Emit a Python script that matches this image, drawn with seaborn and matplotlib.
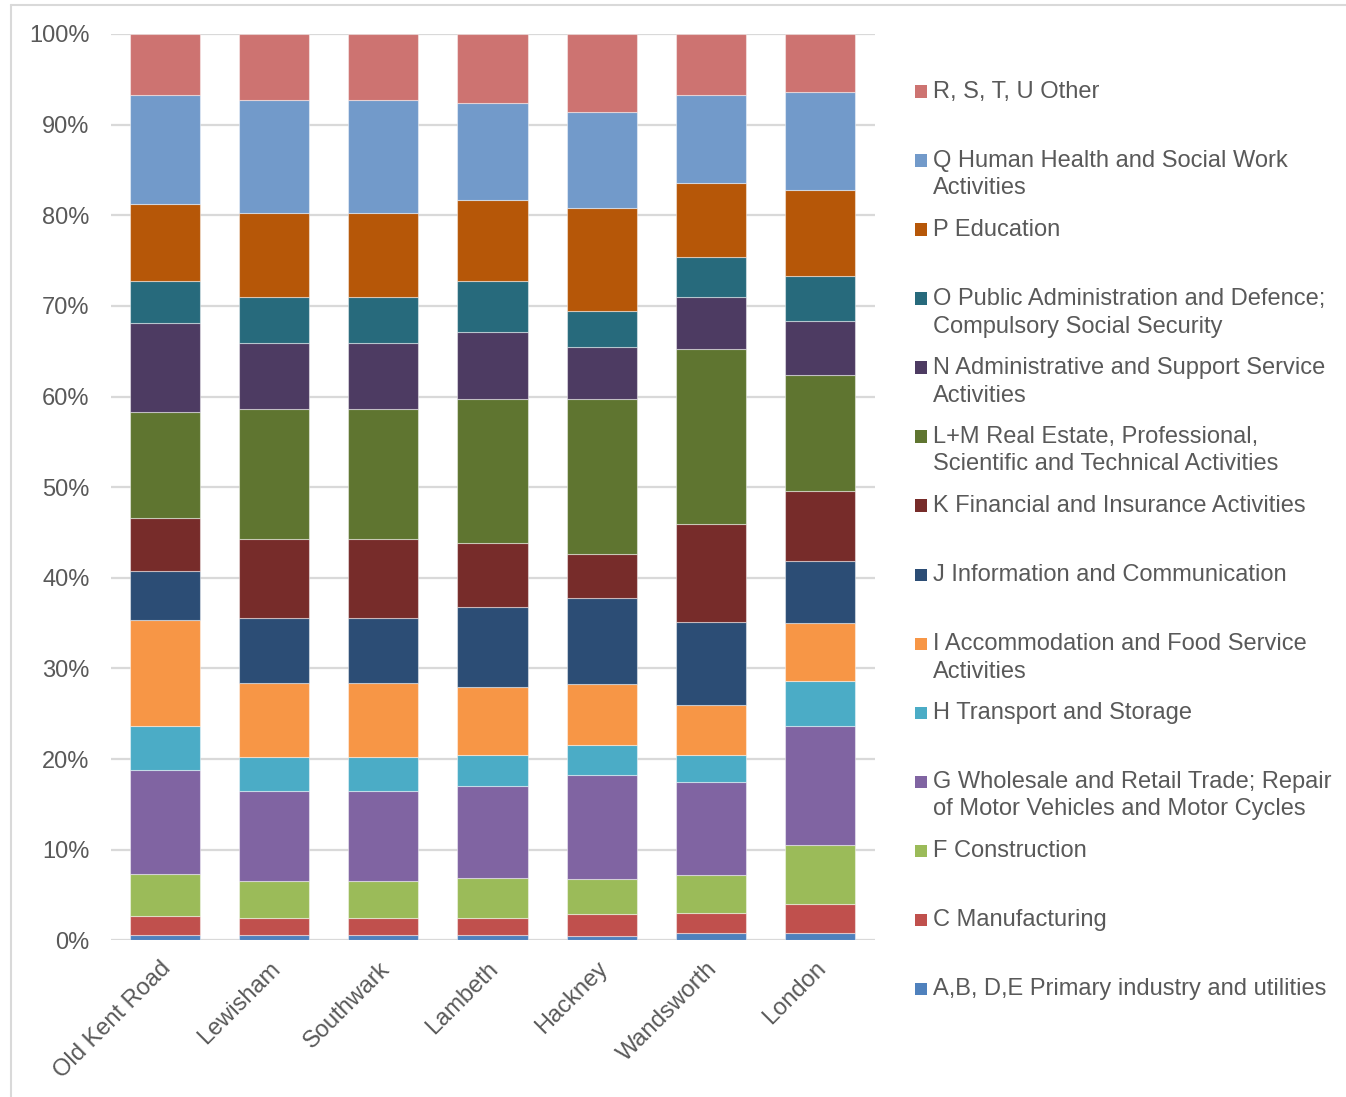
import matplotlib
matplotlib.use("Agg")
import matplotlib.pyplot as plt
from matplotlib.patches import Rectangle
from matplotlib.lines import Line2D
from matplotlib.transforms import ScaledTranslation
import seaborn as sns
import pandas as pd

# Areas compared
areas = ["Old Kent Road", "Lewisham", "Southwark", "Lambeth", "Hackney", "Wandsworth", "London"]

# Share of employment by sector (%), one value per area, in the order of `areas`
primary_utilities = [0.62, 0.55, 0.55, 0.55, 0.44, 0.77, 0.77]
manufacturing     = [2.03, 1.88, 1.88, 1.91, 2.50, 2.28, 3.24]
construction      = [4.63, 4.08, 4.08, 4.41, 3.82, 4.16, 6.51]
wholesale_retail  = [11.54, 9.93, 9.93, 10.12, 11.48, 10.22, 13.09]
transport_storage = [4.83, 3.75, 3.75, 3.42, 3.28, 3.02, 5.00]
accommodation     = [11.73, 8.17, 8.17, 7.57, 6.73, 5.51, 6.37]
information_comm  = [5.33, 7.20, 7.20, 8.76, 9.49, 9.16, 6.87]
financial         = [5.92, 8.69, 8.69, 7.06, 4.85, 10.78, 7.69]
real_estate_prof  = [11.63, 14.34, 14.34, 15.96, 17.10, 19.31, 12.83]
admin_support     = [9.89, 7.28, 7.28, 7.39, 5.81, 5.74, 5.93]
public_admin      = [4.56, 5.08, 5.08, 5.63, 3.97, 4.41, 4.97]
education         = [8.50, 9.27, 9.27, 8.87, 11.36, 8.20, 9.55]
health_social     = [12.03, 12.46, 12.46, 10.70, 10.53, 9.71, 10.81]
other_services    = [6.76, 7.32, 7.32, 7.65, 8.64, 6.73, 6.37]

# Sector labels, top of the stack first (legend order)
sector_labels = [
    "R, S, T, U Other",
    "Q Human Health and Social Work\nActivities",
    "P Education",
    "O Public Administration and Defence;\nCompulsory Social Security",
    "N Administrative and Support Service\nActivities",
    "L+M Real Estate, Professional,\nScientific and Technical Activities",
    "K Financial and Insurance Activities",
    "J Information and Communication",
    "I Accommodation and Food Service\nActivities",
    "H Transport and Storage",
    "G Wholesale and Retail Trade; Repair\nof Motor Vehicles and Motor Cycles",
    "F Construction",
    "C Manufacturing",
    "A,B, D,E Primary industry and utilities",
]
sector_values = [
    other_services, health_social, education, public_admin, admin_support,
    real_estate_prof, financial, information_comm, accommodation,
    transport_storage, wholesale_retail, construction, manufacturing,
    primary_utilities,
]
sector_colors = [
    "#CD7371", "#729ACA", "#B65708", "#276A7C", "#4D3B62", "#5F7530",
    "#772C2A", "#2C4D75", "#F79646", "#4BACC6", "#8064A2", "#9BBB59",
    "#C0504D", "#4F81BD",
]
y_ticks = [0, 10, 20, 30, 40, 50, 60, 70, 80, 90, 100]

rows = []
for label, values in zip(sector_labels, sector_values):
    for area, v in zip(areas, values):
        rows.append({"area": area, "sector": label, "share": v})
df = pd.DataFrame(rows)
df["area"] = pd.Categorical(df["area"], categories=areas, ordered=True)

sns.set_theme(style="white")
plt.rcParams["font.family"] = ["Liberation Sans", "DejaVu Sans"]

W, H = 1346, 1097
FS = 17
fig = plt.figure(figsize=(W / 100, H / 100), dpi=100)
ax = fig.add_axes([110.5 / W, 1 - 940.3 / H, 764 / W, 906.3 / H])

text_color = "#595959"
grid_color = "#D9D9D9"

# gridlines behind the bars
for t in y_ticks:
    ax.axhline(t, color=grid_color, lw=1.6, zorder=0)

sns.histplot(
    data=df, x="area", weights="share", hue="sector",
    hue_order=sector_labels, palette=sector_colors,
    multiple="stack", discrete=True, shrink=0.642,
    alpha=1, edgecolor=(1, 1, 1, 0.45), linewidth=0.8,
    legend=False, ax=ax, zorder=2,
)

ax.set_xlim(-0.5, len(areas) - 0.5)
ax.set_ylim(0, 100)
ax.set_yticks(y_ticks)
ax.set_yticklabels([f"{t}%" for t in y_ticks])
ax.set_xticks(range(len(areas)))
ax.set_xticklabels(areas, rotation=45, ha="right", rotation_mode="anchor")
ax.set_xlabel("")
ax.set_ylabel("")
ax.tick_params(axis="y", length=0, pad=15, labelsize=FS, labelcolor=text_color)
ax.tick_params(axis="x", length=0, pad=11, labelsize=FS, labelcolor=text_color)
shift = ScaledTranslation(-5 / 100, -2 / 100, fig.dpi_scale_trans)
for lab in ax.get_xticklabels():
    lab.set_transform(lab.get_transform() + shift)
for s in ax.spines.values():
    s.set_visible(False)
ax.grid(False)

# legend, one entry every 69 px, top of stack first
x_marker, x_text = 915, 933
for i, (label, color) in enumerate(zip(sector_labels, sector_colors)):
    yc = 91 + 69 * i
    fig.patches.append(Rectangle((x_marker / W, 1 - (yc + 6.5) / H), 12 / W, 12 / H,
                                 transform=fig.transFigure, facecolor=color,
                                 edgecolor="none"))
    for j, line in enumerate(label.split("\n")):
        fig.text(x_text / W, 1 - (yc + 1.0 + 27.5 * j) / H, line, fontsize=FS,
                 color=text_color, ha="left", va="center")

# chart frame (top and left edges)
fig.lines.append(Line2D([11 / W, 11 / W], [0, 1 - 5 / H], transform=fig.transFigure,
                        color=grid_color, lw=1.5))
fig.lines.append(Line2D([11 / W, 1], [1 - 5 / H, 1 - 5 / H], transform=fig.transFigure,
                        color=grid_color, lw=1.5))

fig.savefig("out.png", dpi=100, facecolor="white")
